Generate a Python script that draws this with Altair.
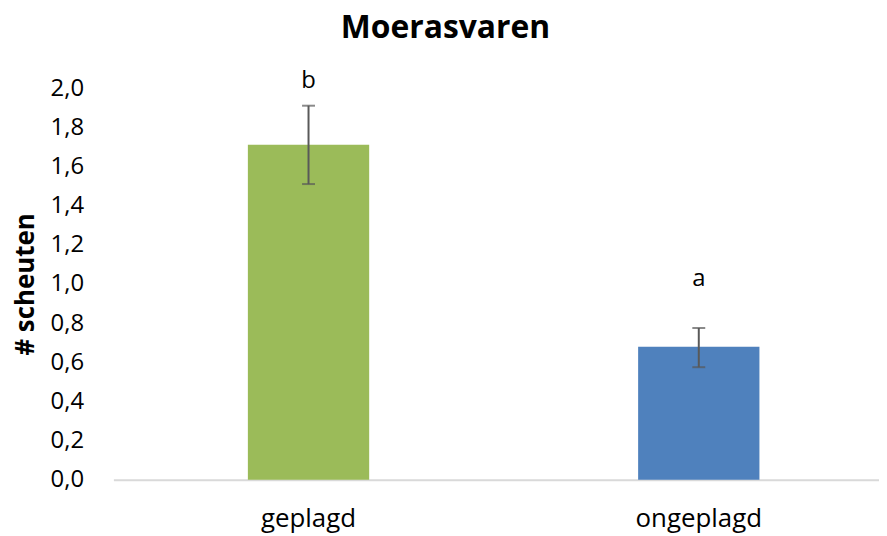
import altair as alt
import pandas as pd

categories = ["geplagd", "ongeplagd"]
means = [1.71, 0.68]
err_low = [1.51, 0.575]
err_high = [1.91, 0.775]
letters = ["b", "a"]
letter_y = [2.0, 0.99]
colors = ["#9BBB59", "#4F81BD"]
tick_values = [0, 0.2, 0.4, 0.6, 0.8, 1.0, 1.2, 1.4, 1.6, 1.8, 2.0]

df = pd.DataFrame({
    "cat": categories,
    "mean": means,
    "low": err_low,
    "high": err_high,
    "letter": letters,
    "ly": letter_y,
    "color": colors,
})

FONT = "Open Sans"

x_axis = alt.Axis(labelAngle=0, labelFontSize=26, labelFont=FONT, labelColor="#000000",
                  labelPadding=26, ticks=False, domainColor="#D9D9D9", domainWidth=2,
                  grid=False, labelOverlap=False)
x_scale = alt.Scale(range=[0, 785], paddingInner=0, paddingOuter=0)

y_axis = alt.Axis(values=tick_values,
                  labelExpr="replace(format(datum.value, '.1f'), '.', ',')",
                  labelFontSize=24, labelFont=FONT, labelColor="#000000",
                  labelPadding=30, ticks=False, domain=False, grid=False,
                  labelOverlap=False, labelFlush=False,
                  titleFontSize=26, titleFont=FONT, titleFontWeight="bold",
                  titleColor="#000000", titlePadding=12)
y_scale = alt.Scale(domain=[0, 2.0], nice=False, zero=True)

bars = alt.Chart(df).mark_bar(size=122).encode(
    x=alt.X("cat:N", sort=categories, title=None, scale=x_scale, axis=x_axis),
    y=alt.Y("mean:Q", scale=y_scale, title="# scheuten", axis=y_axis),
    color=alt.Color("color:N", scale=None, legend=None),
)

errs = alt.Chart(df).mark_errorbar(
    ticks={"size": 13, "thickness": 2, "color": "#595959"},
    rule={"strokeWidth": 2, "color": "#595959"},
).encode(
    x=alt.X("cat:N", sort=categories, title=None, scale=x_scale, axis=x_axis),
    y=alt.Y("low:Q", scale=y_scale, title="# scheuten", axis=y_axis),
    y2="high:Q",
)

texts = alt.Chart(df).mark_text(fontSize=24, font=FONT, color="#000000",
                                baseline="alphabetic", align="center").encode(
    x=alt.X("cat:N", sort=categories, title=None, scale=x_scale, axis=x_axis),
    y=alt.Y("ly:Q", scale=y_scale, title="# scheuten", axis=y_axis),
    text="letter:N",
)

chart = alt.layer(bars, errs, texts).properties(
    width=770,
    height=394,
    title=alt.TitleParams("Moerasvaren", fontSize=32, font=FONT, fontWeight="bold",
                          color="#000000", anchor="middle", offset=24, dx=-51),
    autosize=alt.AutoSizeParams(type="none"),
    padding={"left": 106, "top": 79, "right": 0, "bottom": 60},
    background="white",
).configure_view(strokeWidth=0, stroke=None)

chart.save("out.html", embed_options={"renderer": "svg", "actions": False})
